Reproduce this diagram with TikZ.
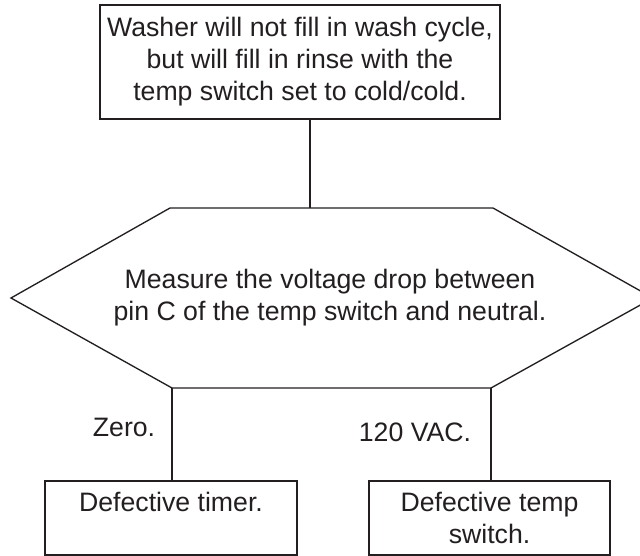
\documentclass[tikz,border=0pt]{standalone}
\usepackage{fontspec}
\setmainfont{Liberation Sans}
\definecolor{ink}{HTML}{231F20}
\begin{document}
\begin{tikzpicture}[x=0.75pt,y=-0.75pt,
  every node/.style={font=\fontsize{20}{24}\selectfont, text=ink},
  box/.style={draw=ink, line width=1pt, align=center, inner sep=0pt},
  conn/.style={draw=ink, line width=1pt}]
\useasboundingbox (0,0) rectangle (640,556);
\clip (0,0) rectangle (640,556);
% top box
\node[box, minimum width=300pt, minimum height=85.5pt] (top) at (300,62)
  {Washer will not fill in wash cycle,\\but will fill in rinse with the\\temp switch set to cold/cold.};
% hexagon
\coordinate (hTL) at (170,208);
\coordinate (hTR) at (493,208);
\coordinate (hR) at (653,298);
\coordinate (hBR) at (491,388);
\coordinate (hBL) at (172,388);
\coordinate (hL) at (11,298);
\coordinate (hexIn) at (310,208);
\draw[conn] (hTL) -- (hTR) -- (hR) -- (hBR) -- (hBL) -- (hL) -- cycle;
\node[align=center] (hex) at (330,298)
  {Measure the voltage drop between\\pin C of the temp switch and neutral.};
% bottom boxes
\node[box, minimum width=189pt, minimum height=55.5pt] (left) at (171,518)
  {Defective timer.\\~};
\node[box, minimum width=180.75pt, minimum height=55.5pt] (right) at (489.5,518)
  {Defective temp\\switch.};
% labels
\node (zero) at (124,427) {Zero.};
\node (vac) at (415,432) {120 VAC.};
% connectors
\draw[conn] (top.south -| hexIn) -- (hexIn);
\draw[conn] (hBL) -- (hBL |- left.north);
\draw[conn] (hBR) -- (hBR |- right.north);
\end{tikzpicture}
\end{document}
